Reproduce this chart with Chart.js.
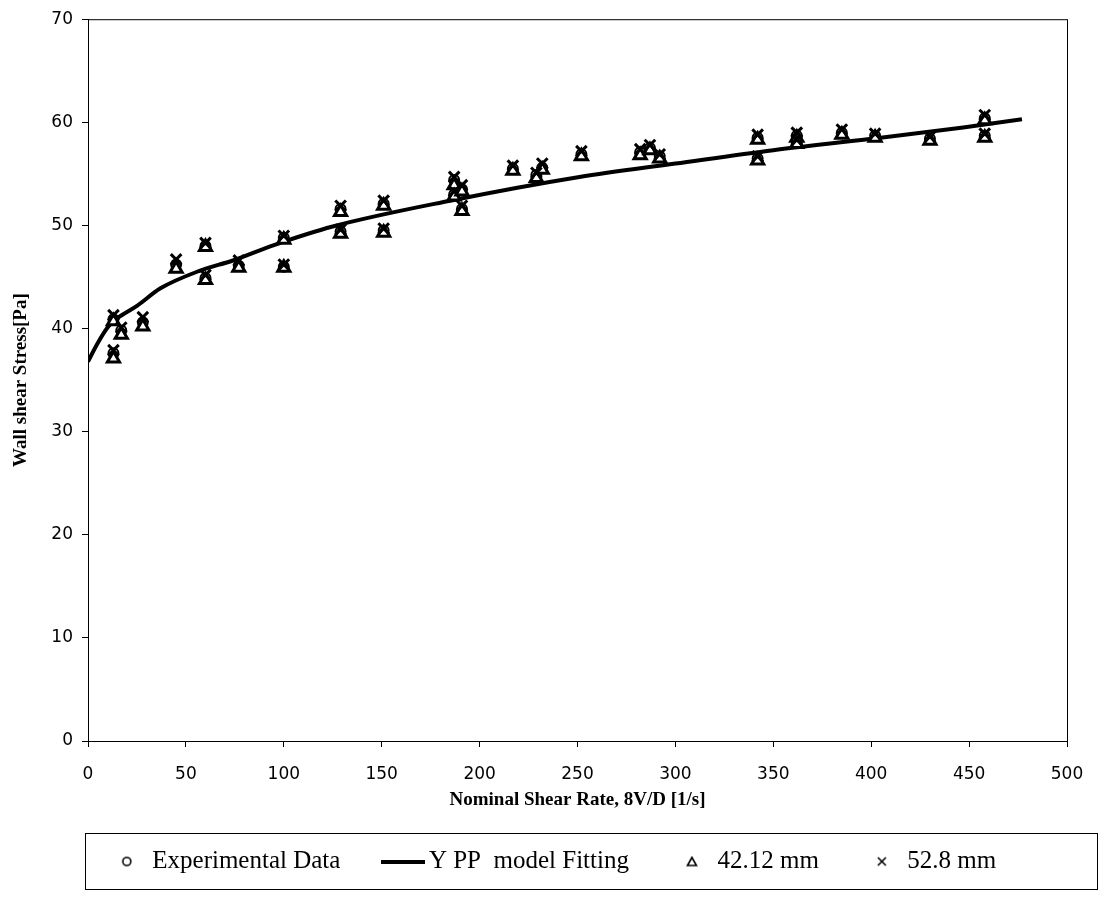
<!DOCTYPE html>
<html lang="en">
<head>
<meta charset="UTF-8">
<title>Wall shear stress vs nominal shear rate</title>
<script src="https://cdn.jsdelivr.net/npm/chart.js"></script>
<style>
  html, body { margin: 0; padding: 0; background: #fff; }
  canvas { display: block; }
</style>
</head>
<body>
<canvas id="stressChart" width="1110" height="900"></canvas>
<script>
// nominal shear rate 8V/D [1/s] of each run
const shearRate = [13, 13, 17, 28, 45, 60, 60, 77, 100, 100, 129, 129, 151, 151, 187, 187, 191, 191,
                   217, 229, 232, 252, 282, 287, 292, 342, 342, 362, 362, 385, 402, 430, 458, 458];
// wall shear stress [Pa]
const expStress = [40.9, 37.6, 39.8, 40.6, 46.2, 48.0, 44.9, 46.1, 48.8, 46.0, 51.6, 49.4, 52.1, 49.5, 54.4, 53.0, 53.5, 51.6,
                   55.5, 54.9, 55.6, 56.9, 57.1, 57.5, 56.7, 58.5, 56.5, 58.7, 58.1, 59.0, 58.7, 58.4, 60.4, 58.7];
const stress42 = [40.7, 37.1, 39.4, 40.2, 45.8, 47.9, 44.7, 45.9, 48.6, 45.9, 51.3, 49.2, 51.9, 49.3, 53.9, 52.8, 53.3, 51.4,
                  55.3, 54.6, 55.4, 56.7, 56.8, 57.3, 56.5, 58.3, 56.3, 58.5, 57.9, 58.8, 58.5, 58.2, 60.2, 58.5];
const stress52 = [41.3, 37.9, 40.1, 41.1, 46.7, 48.3, 45.2, 46.6, 49.0, 46.2, 51.9, 49.6, 52.4, 49.7, 54.7, 53.3, 53.9, 51.9,
                  55.8, 55.1, 56.0, 57.2, 57.4, 57.8, 56.9, 58.8, 56.7, 59.0, 58.3, 59.3, 58.9, 58.6, 60.7, 58.9];

// yield pseudo-plastic model curve
const fitRate   = [0, 5, 10, 15, 25, 37, 57, 74, 95, 125, 185, 251, 300, 350, 400, 447, 477];
const fitStress = [36.8, 38.6, 40.1, 41.0, 42.2, 43.9, 45.6, 46.6, 48.1, 49.9, 52.4, 54.7, 56.0, 57.3, 58.4, 59.5, 60.3];

const xTicks = [0, 50, 100, 150, 200, 250, 300, 350, 400, 450, 500];
const yTicks = [0, 10, 20, 30, 40, 50, 60, 70];

const pairs = (xs, ys) => xs.map((x, i) => ({ x: x, y: ys[i] }));

const serif = '"Liberation Serif", "Times New Roman", serif';
const sans = '"DejaVu Sans", sans-serif';

// small legend glyphs, drawn once on their own canvases
function icon(w, h, draw) {
  const c = document.createElement('canvas');
  c.width = w;
  c.height = h;
  const g = c.getContext('2d');
  g.strokeStyle = '#000';
  g.fillStyle = '#000';
  g.lineWidth = 1.6;
  draw(g);
  return c;
}
const legendIcons = [
  icon(12, 12, g => { g.beginPath(); g.arc(6, 6, 4, 0, Math.PI * 2); g.stroke(); }),
  icon(44, 4, g => { g.fillRect(0, 0, 44, 4); }),
  icon(12, 12, g => { g.beginPath(); g.moveTo(6, 2); g.lineTo(10.5, 10); g.lineTo(1.5, 10); g.closePath(); g.stroke(); }),
  icon(12, 12, g => { g.beginPath(); g.moveTo(2, 2); g.lineTo(10, 10); g.moveTo(10, 2); g.lineTo(2, 10); g.stroke(); })
];

// frame round the plot and round the legend
const framePlugin = {
  id: 'frames',
  afterDraw(chart) {
    const ctx = chart.ctx;
    const a = chart.chartArea;
    ctx.save();
    ctx.strokeStyle = '#000';
    ctx.lineWidth = 1;
    ctx.strokeRect(a.left + 0.5, a.top + 0.5, a.right - a.left, a.bottom - a.top);
    const lg = chart.legend;
    if (lg && lg.legendHitBoxes.length) {
      const hb = lg.legendHitBoxes;
      const top = Math.round(hb[0].top - 16);
      const bottom = Math.round(hb[0].top + hb[0].height + 15);
      ctx.strokeRect(a.left - 2.5, top + 0.5, chart.width - 12 - (a.left - 2), bottom - top);
    }
    ctx.restore();
  }
};

new Chart(document.getElementById('stressChart'), {
  type: 'scatter',
  data: {
    datasets: [
      {
        label: 'Experimental Data',
        data: pairs(shearRate, expStress),
        pointStyle: 'circle',
        pointRadius: 5,
        borderColor: '#000',
        backgroundColor: '#fff',
        borderWidth: 2,
        order: 3
      },
      {
        label: 'Y PP  model Fitting',
        type: 'line',
        data: pairs(fitRate, fitStress),
        showLine: true,
        pointStyle: 'line',
        pointRadius: 0,
        borderColor: '#000',
        backgroundColor: '#000',
        borderWidth: 4,
        cubicInterpolationMode: 'monotone',
        fill: false,
        order: 2
      },
      {
        label: '42.12 mm',
        data: pairs(shearRate, stress42),
        pointStyle: 'triangle',
        pointRadius: 7,
        borderColor: '#000',
        backgroundColor: '#fff',
        borderWidth: 3,
        order: 1
      },
      {
        label: '52.8 mm',
        data: pairs(shearRate, stress52),
        pointStyle: 'crossRot',
        pointRadius: 7.5,
        borderColor: '#000',
        backgroundColor: '#000',
        borderWidth: 3,
        order: 0
      }
    ]
  },
  options: {
    responsive: false,
    animation: false,
    layout: { padding: { top: 18, right: 0, bottom: 16, left: 0 } },
    plugins: {
      tooltip: { enabled: false },
      legend: {
        position: 'bottom',
        labels: {
          usePointStyle: true,
          pointStyleWidth: 26,
          boxHeight: 8,
          padding: 50,
          color: '#000',
          font: { family: serif, size: 25 },
          sort: (a, b) => a.datasetIndex - b.datasetIndex,
          generateLabels: chart => Chart.defaults.plugins.legend.labels.generateLabels(chart)
            .map(item => Object.assign(item, { pointStyle: legendIcons[item.datasetIndex] }))
        }
      }
    },
    scales: {
      x: {
        type: 'linear',
        min: 0,
        max: 500,
        afterBuildTicks: s => { s.ticks = xTicks.map(v => ({ value: v })); },
        afterFit: s => { s.height = 58; },
        border: { display: true, color: '#000', width: 1 },
        grid: { drawOnChartArea: false, color: '#000', tickLength: 6 },
        ticks: {
          color: '#000',
          padding: 17,
          maxRotation: 0,
          font: { family: sans, size: 17 }
        },
        title: {
          display: true,
          text: 'Nominal Shear Rate, 8V/D [1/s]',
          color: '#000',
          padding: { top: 0, bottom: -12 },
          font: { family: serif, size: 19, weight: 'bold' }
        }
      },
      y: {
        type: 'linear',
        min: 0,
        max: 70,
        afterBuildTicks: s => { s.ticks = yTicks.map(v => ({ value: v })); },
        afterFit: s => { s.width = 88; },
        border: { display: true, color: '#000', width: 1 },
        grid: { drawOnChartArea: false, color: '#000', tickLength: 6 },
        ticks: {
          color: '#000',
          padding: 9,
          font: { family: sans, size: 17 }
        },
        title: {
          display: true,
          text: 'Wall shear Stress[Pa]',
          color: '#000',
          padding: { top: 10, bottom: 0 },
          font: { family: serif, size: 19, weight: 'bold' }
        }
      },
      // empty strip on the right of the plot
      yRight: {
        type: 'linear',
        position: 'right',
        min: 0,
        max: 70,
        afterFit: s => { s.width = 43; },
        border: { display: false },
        grid: { display: false },
        ticks: { display: false }
      }
    }
  },
  plugins: [framePlugin]
});
</script>
</body>
</html>
